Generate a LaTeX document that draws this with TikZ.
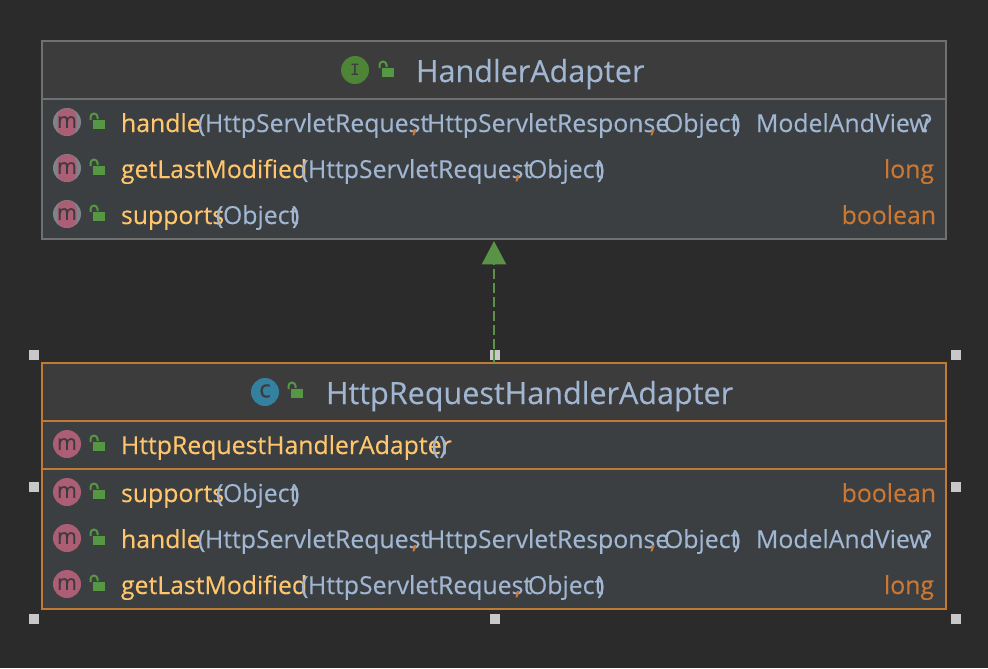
\documentclass[tikz,border=0pt]{standalone}
\usepackage{fontspec}
\setmainfont[FakeBold=0.25]{Open Sans}
\newfontfamily\heavyfont[FakeBold=0.6]{Open Sans}
\newfontfamily\semifont[FakeBold=0.25]{Open Sans}
\usetikzlibrary{arrows.meta}
\definecolor{bgc}{HTML}{2B2B2B}
\definecolor{headc}{HTML}{3C3C3C}
\definecolor{rowc}{HTML}{3C3F41}
\definecolor{edgegray}{HTML}{6F7070}
\definecolor{edgeorange}{HTML}{C27A33}
\definecolor{methodc}{HTML}{FFC66D}
\definecolor{paramc}{HTML}{A0B6D2}
\definecolor{typec}{HTML}{CC7832}
\definecolor{greenc}{HTML}{5A9347}
\definecolor{lockc}{HTML}{559742}
\definecolor{pinkc}{HTML}{AC5F74}
\definecolor{iconink}{HTML}{3F3A3F}
\definecolor{ringc}{HTML}{7E8488}
\definecolor{classc}{HTML}{33819F}
\definecolor{ifacec}{HTML}{4D8436}
\definecolor{handlec}{HTML}{C8C8C8}
\tikzset{
  x=0.75pt,y=-0.75pt,
  seg/.style={inner sep=0pt,outer sep=0pt,anchor=base west,font=\semifont\fontsize{18.6pt}{20pt}\selectfont},
  mname/.style={seg,text=methodc},
  pname/.style={seg,text=paramc},
  pbrace/.style={seg,text=paramc,font=\heavyfont\fontsize{18.6pt}{20pt}\selectfont},
  tname/.style={seg,text=typec,font=\heavyfont\fontsize{18.6pt}{20pt}\selectfont},
  rtype/.style={seg,text=typec,anchor=base east},
  title/.style={seg,text=paramc,font=\semifont\fontsize{22.9pt}{25pt}\selectfont},
  grayedge/.style={draw=edgegray,line width=1.2pt},
  orangeedge/.style={draw=edgeorange,line width=1.3pt},
  bigbox/.style={inner sep=0pt,outer sep=0pt,minimum width=678pt,fill=rowc},
  handlebox/.style={fill=handlec,inner sep=0pt,outer sep=0pt,minimum size=7pt},
  badge/.style={circle,inner sep=0pt,outer sep=0pt,minimum size=21pt},
  icontext/.style={inner sep=0pt,outer sep=0pt,text=iconink,font=\semifont\fontsize{16pt}{16pt}\selectfont},
}
\newcommand{\lockicon}[2]{%
  \fill[lockc] (#1+4,#2-4) rectangle (#1+16,#2+5);
  \draw[lockc,line width=1.5pt] (#1+1.5,#2-4) -- (#1+1.5,#2-7) arc[start angle=180,end angle=0,x radius=3.5,y radius=-3.5] -- (#1+8.5,#2-5);
}
\newcommand{\mring}[3]{% name, x, y
  \fill[ringc] (#2,#3) circle[radius=14];
  \fill[pinkc,rounded corners=6pt] (#2-9.5,#3-13.5) rectangle (#2+9.5,#3+13.5);
  \node[icontext] (#1) at (#2,#3) {m};
}
\newcommand{\mplain}[3]{%
  \node[badge,fill=pinkc] (#1b) at (#2,#3) {};
  \node[icontext] (#1) at (#2,#3) {m};
}
\begin{document}
\begin{tikzpicture}
\useasboundingbox[fill=bgc] (0,0) rectangle (988,668);

% boxes
\node[bigbox,grayedge,minimum height=148.5pt] (iface) at (494,140) {};
\fill[headc] (42.8,41.8) rectangle (945.2,98);
\draw[grayedge] (42,41) rectangle (946,239);
\draw[grayedge] (42,99) -- (946,99);

\node[bigbox,orangeedge,minimum height=184.5pt] (impl) at (494,486) {};
\fill[headc] (42.8,363.8) rectangle (945.2,420);
\draw[orangeedge] (42,363) rectangle (946,609);
\draw[orangeedge] (42,421) -- (946,421);
\draw[orangeedge] (42,469) -- (946,469);

% connector
\draw[greenc,line width=1.7pt,dash pattern=on 7.5pt off 3pt,shorten >=1.5pt,-{Triangle[length=17.5pt,width=18pt]}] (impl.north) -- (iface.south);

% title icons
\node[badge,fill=ifacec] (ibadge) at (355,70) {};
\node[inner sep=0pt,text=iconink,font=\fontsize{14pt}{14pt}\ttfamily\bfseries\selectfont] (iletter) at (355,70) {I};
\lockicon{378}{72}
\node[badge,fill=classc] (cbadge) at (265,392) {};
\node[inner sep=0pt,text=iconink,font=\heavyfont\fontsize{18pt}{18pt}\selectfont] (cletter) at (265,391) {c};
\lockicon{287}{393}

\node[title] (t1) at (416,82) {HandlerAdapter};
\node[title] (t2) at (326,404) {HttpRequestHandlerAdapter};

% top rows
\mring{a1}{67}{122}\lockicon{89}{124}
\mring{a2}{67}{168}\lockicon{89}{170}
\mring{a3}{67}{214}\lockicon{89}{216}

\node[mname] (a1m) at (121,132) {handle};
\node[pbrace] (a1o) at (198,132) {(};
\node[pname] (a1p) at (205,132) {HttpServletRequest};
\node[tname] (a1c) at (412,132) {,};
\node[pname] (a1q) at (427,132) {HttpServletResponse};
\node[tname] (a1d) at (650,132) {,};
\node[pname] (a1r) at (664,132) {Object};
\node[pbrace] (a1e) at (733,132) {)};
\node[pname] (a1t) at (756,132) {ModelAndView};
\node[pbrace] (a1u) at (921,132) {?};

\node[mname] (a2m) at (121,178) {getLastModified};
\node[pbrace] (a2o) at (301,178) {(};
\node[pname] (a2p) at (308,178) {HttpServletRequest};
\node[tname] (a2c) at (515,178) {,};
\node[pname] (a2r) at (528,178) {Object};
\node[pbrace] (a2e) at (597,178) {)};
\node[rtype] (a2t) at (934,178) {long};

\node[mname] (a3m) at (121,224) {supports};
\node[pbrace] (a3o) at (216,224) {(};
\node[pname] (a3r) at (223,224) {Object};
\node[pbrace] (a3e) at (292,224) {)};
\node[rtype] (a3t) at (936,224) {boolean};

% bottom rows
\mplain{b0}{67}{444}\lockicon{89}{446}
\mplain{b1}{67}{492}\lockicon{89}{494}
\mplain{b2}{67}{538}\lockicon{89}{540}
\mplain{b3}{67}{584}\lockicon{89}{586}

\node[mname] (b0m) at (121,454) {HttpRequestHandlerAdapter};
\node[pbrace] (b0o) at (432,454) {()};

\node[mname] (b1m) at (121,502) {supports};
\node[pbrace] (b1o) at (216,502) {(};
\node[pname] (b1r) at (223,502) {Object};
\node[pbrace] (b1e) at (292,502) {)};
\node[rtype] (b1t) at (936,502) {boolean};

\node[mname] (b2m) at (121,548) {handle};
\node[pbrace] (b2o) at (198,548) {(};
\node[pname] (b2p) at (205,548) {HttpServletRequest};
\node[tname] (b2c) at (412,548) {,};
\node[pname] (b2q) at (427,548) {HttpServletResponse};
\node[tname] (b2d) at (650,548) {,};
\node[pname] (b2r) at (664,548) {Object};
\node[pbrace] (b2e) at (733,548) {)};
\node[pname] (b2t) at (756,548) {ModelAndView};
\node[pbrace] (b2u) at (921,548) {?};

\node[mname] (b3m) at (121,594) {getLastModified};
\node[pbrace] (b3o) at (301,594) {(};
\node[pname] (b3p) at (308,594) {HttpServletRequest};
\node[tname] (b3c) at (515,594) {,};
\node[pname] (b3r) at (528,594) {Object};
\node[pbrace] (b3e) at (597,594) {)};
\node[rtype] (b3t) at (934,594) {long};

% selection handles
\node[handlebox] (h1) at (34,355) {};
\node[handlebox] (h2) at (495,355) {};
\node[handlebox] (h3) at (956,355) {};
\node[handlebox] (h4) at (34,487) {};
\node[handlebox] (h5) at (956,487) {};
\node[handlebox] (h6) at (34,619) {};
\node[handlebox] (h7) at (495,619) {};
\node[handlebox] (h8) at (956,619) {};
\draw[greenc,line width=1pt] (h2.north -| impl.north) -- (impl.north);
\end{tikzpicture}
\end{document}
